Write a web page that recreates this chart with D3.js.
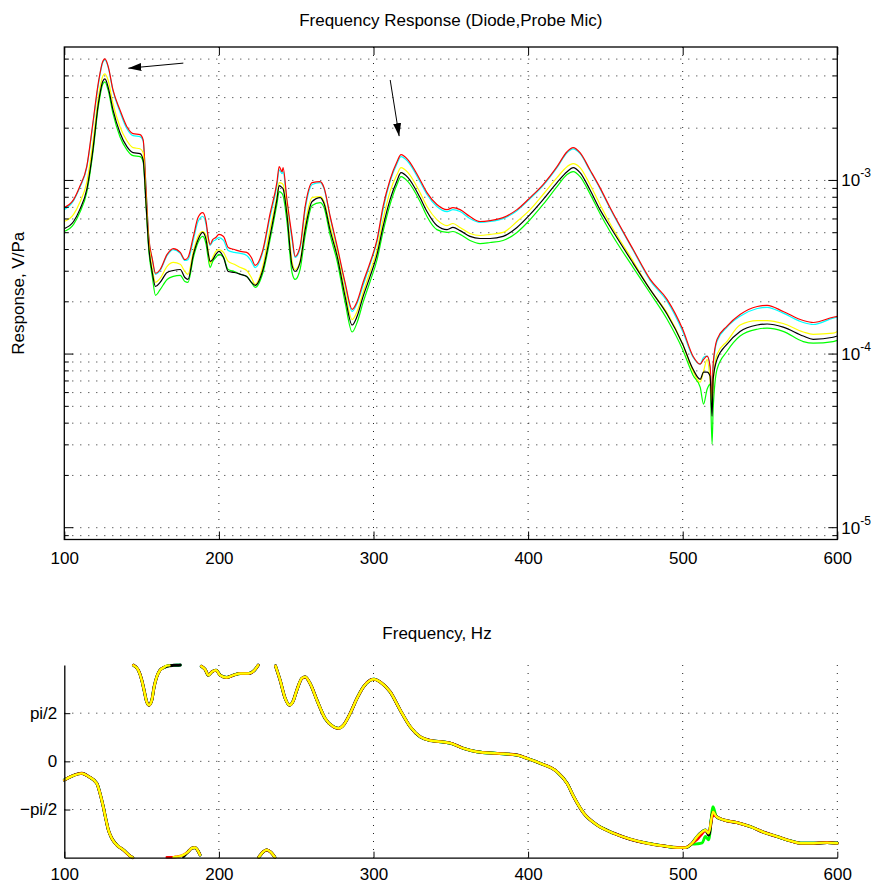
<!DOCTYPE html>
<html><head><meta charset="utf-8">
<script src="https://cdn.jsdelivr.net/npm/d3@7"></script>
<style>
body{margin:0;background:#fff}
svg{display:block}
text{font-family:"Liberation Sans",Arial,Helvetica,sans-serif;fill:#000}
</style>
</head><body>
<svg id="c" width="877" height="883"></svg>
<script>
// ---------- data ----------
const freq = [
 100,106,110,114.5,118.5,122,125,126.3,128.3,131.5,
 136,140.5,144.5,149,151,152.9,154.5,157,159,162,
 166.5,170.5,175,178,180,183.5,186.5,189.5,191.7,193,
 194.3,196,198,200,203,206,210,214,218,221,
 223.5,228.5,233,237.5,239,240.9,241.5,244,247.3,249.3,
 252.5,255.8,260.3,265.5,268,272,276.5,281.6,286.2,289.4,
 293.3,297.8,302.3,306.2,310.7,315.2,317.8,322.3,330.1,334.6,
 341,347.6,351.4,356,362.4,368.9,375.4,383.8,392.8,401.3,
 409.7,418.7,425.2,429.1,433.6,440,446.5,453,468,479,
 490,500,506.7,511.3,513.5,515.8,517.7,519,519.7,522.2,
 528.7,537.1,548.2,554.6,565,578,584.4,597.3,600];

// magnitude, V/Pa
const magRed = [
 0.698e-3,0.775e-3,0.922e-3,1.201e-3,2.150e-3,3.650e-3,4.878e-3,5.009e-3,4.572e-3,3.321e-3,
 2.549e-3,2.039e-3,1.859e-3,1.835e-3,1.714e-3,0.884e-3,0.489e-3,0.350e-3,0.292e-3,0.307e-3,
 0.375e-3,0.405e-3,0.385e-3,0.350e-3,0.360e-3,0.476e-3,0.611e-3,0.653e-3,0.580e-3,0.476e-3,
 0.428e-3,0.456e-3,0.469e-3,0.489e-3,0.476e-3,0.411e-3,0.400e-3,0.390e-3,0.385e-3,0.360e-3,
 0.324e-3,0.400e-3,0.637e-3,0.972e-3,1.201e-3,1.123e-3,1.185e-3,0.775e-3,0.476e-3,0.365e-3,
 0.417e-3,0.708e-3,0.972e-3,0.984e-3,0.909e-3,0.620e-3,0.417e-3,0.259e-3,0.181e-3,0.201e-3,
 0.259e-3,0.337e-3,0.456e-3,0.708e-3,1.009e-3,1.282e-3,1.408e-3,1.315e-3,1.009e-3,0.851e-3,
 0.727e-3,0.679e-3,0.698e-3,0.679e-3,0.620e-3,0.580e-3,0.587e-3,0.611e-3,0.679e-3,0.797e-3,
 0.947e-3,1.201e-3,1.464e-3,1.544e-3,1.445e-3,1.152e-3,0.909e-3,0.698e-3,0.400e-3,0.269e-3,
 0.206e-3,0.139e-3,0.0972e-3,0.0875e-3,0.0932e-3,0.0972e-3,0.0852e-3,0.0549e-3,0.0875e-3,0.1215e-3,
 0.145e-3,0.169e-3,0.188e-3,0.191e-3,0.176e-3,0.156e-3,0.152e-3,0.163e-3,0.165e-3];
const magCyan = [
 0.679e-3,0.765e-3,0.909e-3,1.185e-3,2.095e-3,3.556e-3,4.817e-3,4.939e-3,4.511e-3,3.280e-3,
 2.486e-3,1.984e-3,1.811e-3,1.787e-3,1.693e-3,0.884e-3,0.482e-3,0.346e-3,0.288e-3,0.303e-3,
 0.370e-3,0.400e-3,0.380e-3,0.346e-3,0.350e-3,0.456e-3,0.580e-3,0.620e-3,0.558e-3,0.469e-3,
 0.422e-3,0.445e-3,0.456e-3,0.469e-3,0.451e-3,0.395e-3,0.385e-3,0.380e-3,0.370e-3,0.342e-3,
 0.315e-3,0.390e-3,0.611e-3,0.934e-3,1.152e-3,1.095e-3,1.123e-3,0.746e-3,0.456e-3,0.360e-3,
 0.405e-3,0.679e-3,0.947e-3,0.972e-3,0.897e-3,0.611e-3,0.405e-3,0.252e-3,0.176e-3,0.196e-3,
 0.249e-3,0.329e-3,0.445e-3,0.679e-3,0.984e-3,1.250e-3,1.371e-3,1.282e-3,0.984e-3,0.830e-3,
 0.708e-3,0.662e-3,0.679e-3,0.662e-3,0.603e-3,0.573e-3,0.580e-3,0.603e-3,0.670e-3,0.786e-3,
 0.934e-3,1.185e-3,1.445e-3,1.522e-3,1.427e-3,1.138e-3,0.897e-3,0.689e-3,0.395e-3,0.265e-3,
 0.201e-3,0.135e-3,0.0958e-3,0.0875e-3,0.0958e-3,0.0972e-3,0.0817e-3,0.0515e-3,0.0840e-3,0.1185e-3,
 0.143e-3,0.165e-3,0.183e-3,0.186e-3,0.172e-3,0.152e-3,0.148e-3,0.161e-3,0.163e-3];
const magYellow = [
 0.580e-3,0.637e-3,0.746e-3,0.972e-3,1.650e-3,2.992e-3,4.005e-3,4.113e-3,3.791e-3,2.766e-3,
 2.039e-3,1.693e-3,1.544e-3,1.522e-3,1.445e-3,0.775e-3,0.456e-3,0.307e-3,0.259e-3,0.273e-3,
 0.320e-3,0.337e-3,0.329e-3,0.299e-3,0.288e-3,0.390e-3,0.476e-3,0.508e-3,0.482e-3,0.400e-3,
 0.333e-3,0.360e-3,0.390e-3,0.400e-3,0.385e-3,0.342e-3,0.329e-3,0.315e-3,0.303e-3,0.276e-3,
 0.252e-3,0.324e-3,0.521e-3,0.808e-3,0.972e-3,0.959e-3,0.947e-3,0.679e-3,0.342e-3,0.307e-3,
 0.342e-3,0.558e-3,0.797e-3,0.808e-3,0.756e-3,0.543e-3,0.380e-3,0.230e-3,0.158e-3,0.176e-3,
 0.227e-3,0.299e-3,0.400e-3,0.595e-3,0.862e-3,1.081e-3,1.185e-3,1.109e-3,0.851e-3,0.708e-3,
 0.595e-3,0.550e-3,0.565e-3,0.536e-3,0.495e-3,0.482e-3,0.489e-3,0.502e-3,0.580e-3,0.679e-3,
 0.830e-3,1.038e-3,1.201e-3,1.250e-3,1.185e-3,0.947e-3,0.727e-3,0.565e-3,0.342e-3,0.235e-3,
 0.172e-3,0.114e-3,0.0797e-3,0.0689e-3,0.0797e-3,0.0932e-3,0.0716e-3,0.0515e-3,0.0672e-3,0.0998e-3,
 0.1185e-3,0.147e-3,0.156e-3,0.156e-3,0.150e-3,0.134e-3,0.130e-3,0.132e-3,0.135e-3];
const magBlack = [
 0.528e-3,0.580e-3,0.679e-3,0.884e-3,1.501e-3,2.766e-3,3.744e-3,3.845e-3,3.462e-3,2.549e-3,
 1.883e-3,1.565e-3,1.445e-3,1.427e-3,1.315e-3,0.727e-3,0.428e-3,0.292e-3,0.245e-3,0.259e-3,
 0.295e-3,0.303e-3,0.307e-3,0.276e-3,0.269e-3,0.375e-3,0.456e-3,0.502e-3,0.456e-3,0.385e-3,
 0.342e-3,0.350e-3,0.375e-3,0.390e-3,0.360e-3,0.299e-3,0.295e-3,0.288e-3,0.280e-3,0.259e-3,
 0.249e-3,0.307e-3,0.476e-3,0.775e-3,0.934e-3,0.909e-3,0.897e-3,0.637e-3,0.324e-3,0.299e-3,
 0.337e-3,0.521e-3,0.756e-3,0.797e-3,0.736e-3,0.514e-3,0.365e-3,0.215e-3,0.147e-3,0.165e-3,
 0.215e-3,0.280e-3,0.375e-3,0.543e-3,0.775e-3,0.997e-3,1.109e-3,1.038e-3,0.797e-3,0.662e-3,
 0.550e-3,0.521e-3,0.536e-3,0.514e-3,0.476e-3,0.463e-3,0.463e-3,0.476e-3,0.536e-3,0.637e-3,
 0.775e-3,0.972e-3,1.123e-3,1.185e-3,1.109e-3,0.884e-3,0.679e-3,0.543e-3,0.333e-3,0.235e-3,
 0.169e-3,0.114e-3,0.0817e-3,0.0716e-3,0.0787e-3,0.0787e-3,0.0746e-3,0.0439e-3,0.0716e-3,0.0932e-3,
 0.114e-3,0.135e-3,0.147e-3,0.149e-3,0.143e-3,0.127e-3,0.1215e-3,0.125e-3,0.127e-3];
const magGreen = [
 0.508e-3,0.558e-3,0.653e-3,0.851e-3,1.445e-3,2.657e-3,3.603e-3,3.697e-3,3.321e-3,2.423e-3,
 1.787e-3,1.501e-3,1.389e-3,1.371e-3,1.282e-3,0.708e-3,0.411e-3,0.276e-3,0.218e-3,0.235e-3,
 0.269e-3,0.280e-3,0.284e-3,0.262e-3,0.259e-3,0.360e-3,0.439e-3,0.476e-3,0.428e-3,0.360e-3,
 0.315e-3,0.342e-3,0.360e-3,0.375e-3,0.360e-3,0.307e-3,0.299e-3,0.288e-3,0.280e-3,0.259e-3,
 0.242e-3,0.295e-3,0.451e-3,0.727e-3,0.862e-3,0.840e-3,0.818e-3,0.580e-3,0.295e-3,0.269e-3,
 0.307e-3,0.482e-3,0.717e-3,0.746e-3,0.698e-3,0.482e-3,0.342e-3,0.199e-3,0.134e-3,0.152e-3,
 0.199e-3,0.262e-3,0.350e-3,0.508e-3,0.727e-3,0.947e-3,1.052e-3,0.984e-3,0.756e-3,0.620e-3,
 0.521e-3,0.502e-3,0.508e-3,0.489e-3,0.451e-3,0.433e-3,0.439e-3,0.451e-3,0.502e-3,0.595e-3,
 0.727e-3,0.922e-3,1.081e-3,1.123e-3,1.052e-3,0.840e-3,0.645e-3,0.508e-3,0.315e-3,0.224e-3,
 0.158e-3,0.106e-3,0.0756e-3,0.0645e-3,0.0515e-3,0.0627e-3,0.0672e-3,0.0303e-3,0.0481e-3,0.0817e-3,
 0.1038e-3,0.127e-3,0.139e-3,0.141e-3,0.135e-3,0.118e-3,0.1155e-3,0.118e-3,0.120e-3];

// phase, radians (wrapped to -pi..pi)
const phaseFreq = [
 100,105,111.3,116,121,123.1,125.2,127,128.5,130.7,
 133.9,138.2,142.5,144.3,144.7,147.9,150.1,151.6,153.3,154.8,
 156.6,158.1,159.8,161.9,164,166.3,168,170.6,172.8,175,
 177,180,182.5,184.6,186.1,187.8,188.6,191.1,193.2,195.4,
 198.2,200.8,205.1,209.4,213.7,219.1,223.4,225.4,225.8,228.8,
 231,233.6,236.2,236.6,239.6,242.9,245.7,247.8,250.4,253.6,
 255.8,259,263.4,268.7,274.1,277.3,280.6,284.9,289.3,293.5,
 297.9,300.4,304.3,310.8,317.3,323.8,330.2,336.7,345.3,349.6,
 358.2,366.9,379.9,392.8,399.3,407.9,418.7,425.2,429.5,436,
 444.6,455.3,466.1,476.9,487.7,496.4,501.7,506.1,509.3,512.6,
 514.7,516.8,519.6,521.8,526.5,535.2,543.8,552.4,561.1,569.7,
 576.2,584.8,593.4,600];
const phaseYellow = [
 -0.609,-0.48,-0.391,-0.505,-0.716,-1.042,-1.478,-1.911,-2.236,-2.507,
 -2.725,-2.887,-3.083,-3.138,3.135,2.972,2.646,2.320,1.940,1.833,
 1.995,2.428,2.754,2.972,3.05,3.12,3.13,-3.125,-3.11,-3.09,
 -3.05,-2.95,-2.832,-2.81,-2.887,-3.05,3.102,2.995,2.809,2.917,
 2.972,2.809,2.734,2.809,2.865,2.865,2.995,3.135,-3.125,-2.943,
 -2.887,-2.962,-3.125,3.112,2.646,2.051,1.833,1.940,2.321,2.702,
 2.754,2.539,1.995,1.400,1.126,1.074,1.182,1.562,2.051,2.428,
 2.646,2.679,2.591,2.266,1.670,1.126,0.801,0.680,0.630,0.595,
 0.423,0.313,0.260,0.205,0.098,-0.065,-0.339,-0.716,-1.152,-1.693,
 -2.074,-2.344,-2.539,-2.669,-2.757,-2.813,-2.813,-2.669,-2.454,-2.292,
 -2.236,-2.344,-1.640,-1.803,-1.911,-1.998,-2.128,-2.312,-2.454,-2.594,
 -2.669,-2.669,-2.650,-2.669];
const phaseRed = [
 -0.609,-0.48,-0.391,-0.505,-0.716,-1.042,-1.478,-1.911,-2.236,-2.507,
 -2.725,-2.887,-3.083,-3.138,3.135,2.972,2.646,2.320,1.940,1.833,
 1.995,2.428,2.754,2.972,3.05,-3.125,-3.125,-3.125,-3.11,-3.09,
 -3.05,-2.95,-2.832,-2.81,-2.887,-3.05,3.102,2.995,2.809,2.917,
 2.972,2.809,2.734,2.809,2.865,2.865,2.995,3.135,-3.125,-2.943,
 -2.887,-2.962,-3.125,3.112,2.646,2.051,1.833,1.940,2.321,2.702,
 2.754,2.539,1.995,1.400,1.126,1.074,1.182,1.562,2.051,2.428,
 2.646,2.679,2.591,2.266,1.670,1.126,0.801,0.680,0.630,0.595,
 0.423,0.313,0.260,0.205,0.098,-0.065,-0.339,-0.716,-1.152,-1.693,
 -2.074,-2.344,-2.539,-2.669,-2.757,-2.813,-2.813,-2.669,-2.55,-2.36,
 -2.26,-2.30,-1.75,-1.803,-1.911,-1.998,-2.128,-2.312,-2.454,-2.594,
 -2.669,-2.669,-2.650,-2.669];
const phaseBlack = [
 -0.609,-0.48,-0.391,-0.505,-0.716,-1.042,-1.478,-1.911,-2.236,-2.507,
 -2.725,-2.887,-3.083,-3.138,3.135,2.972,2.646,2.320,1.940,1.833,
 1.995,2.428,2.754,2.972,3.05,3.102,3.12,3.13,3.135,3.138,
 -3.10,-2.95,-2.832,-2.81,-2.887,-3.05,3.102,2.995,2.809,2.917,
 2.972,2.809,2.734,2.809,2.865,2.865,2.995,3.135,-3.125,-2.943,
 -2.887,-2.962,-3.125,3.112,2.646,2.051,1.833,1.940,2.321,2.702,
 2.754,2.539,1.995,1.400,1.126,1.074,1.182,1.562,2.051,2.428,
 2.646,2.679,2.591,2.266,1.670,1.126,0.801,0.680,0.630,0.595,
 0.423,0.313,0.260,0.205,0.098,-0.065,-0.339,-0.716,-1.152,-1.693,
 -2.074,-2.344,-2.539,-2.669,-2.757,-2.813,-2.813,-2.669,-2.454,-2.292,
 -2.236,-2.40,-1.66,-1.803,-1.911,-1.998,-2.128,-2.312,-2.454,-2.594,
 -2.669,-2.669,-2.650,-2.669];
const phaseCyan = [
 -0.609,-0.48,-0.391,-0.505,-0.716,-1.042,-1.478,-1.911,-2.236,-2.507,
 -2.725,-2.887,-3.083,-3.138,3.135,2.972,2.646,2.320,1.940,1.833,
 1.995,2.428,2.754,2.972,3.05,3.102,3.12,3.13,3.135,3.138,
 -3.10,-2.95,-2.832,-2.81,-2.887,-3.05,3.102,2.995,2.809,2.917,
 2.972,2.809,2.734,2.809,2.865,2.865,2.995,3.135,-3.125,-2.943,
 -2.887,-2.962,-3.125,3.112,2.646,2.051,1.833,1.940,2.321,2.702,
 2.754,2.539,1.995,1.400,1.126,1.074,1.182,1.562,2.051,2.428,
 2.646,2.679,2.591,2.266,1.670,1.126,0.801,0.680,0.630,0.595,
 0.423,0.313,0.260,0.205,0.098,-0.065,-0.339,-0.716,-1.152,-1.693,
 -2.074,-2.344,-2.539,-2.669,-2.757,-2.813,-2.813,-2.669,-2.454,-2.292,
 -2.236,-2.344,-1.640,-1.803,-1.911,-1.998,-2.128,-2.312,-2.454,-2.594,
 -2.669,-2.669,-2.650,-2.669];
const phaseGreen = [
 -0.609,-0.48,-0.391,-0.505,-0.716,-1.042,-1.478,-1.911,-2.236,-2.507,
 -2.725,-2.887,-3.083,-3.138,3.135,2.972,2.646,2.320,1.940,1.833,
 1.995,2.428,2.754,2.972,3.05,3.102,3.12,3.13,3.135,3.138,
 -3.10,-2.95,-2.832,-2.81,-2.887,-3.05,3.102,2.995,2.809,2.917,
 2.972,2.809,2.734,2.809,2.865,2.865,2.995,3.135,-3.125,-2.943,
 -2.887,-2.962,-3.125,3.112,2.646,2.051,1.833,1.940,2.321,2.702,
 2.754,2.539,1.995,1.400,1.126,1.074,1.182,1.562,2.051,2.428,
 2.646,2.679,2.591,2.266,1.670,1.126,0.801,0.680,0.630,0.595,
 0.423,0.313,0.260,0.205,0.098,-0.065,-0.339,-0.716,-1.152,-1.693,
 -2.074,-2.344,-2.539,-2.669,-2.757,-2.813,-2.813,-2.70,-2.69,-2.66,
 -2.45,-2.56,-1.48,-1.803,-1.911,-1.998,-2.128,-2.312,-2.454,-2.594,
 -2.669,-2.669,-2.650,-2.669];

const freqTicks = [100, 200, 300, 400, 500, 600];
const magDecades = [1e-5, 1e-4, 1e-3];
const magDecadeExp = ["-5", "-4", "-3"];
const phaseTicks = [-Math.PI / 2, 0, Math.PI / 2];
const phaseTickLabels = ["\u2212pi/2", "0", "pi/2"];
const magDomain = [8.55e-6, 5.87e-3];
const phaseDomain = [-Math.PI, Math.PI];
// annotation arrows (data coordinates: Hz, V/Pa)
const arrowFrom = [[177.0, 4.74e-3], [310.8, 3.79e-3]];
const arrowTo   = [[141.4, 4.43e-3], [316.6, 1.80e-3]];

const titleText = "Frequency Response (Diode,Probe Mic)";
const yLabelText = "Response, V/Pa";
const xLabelText = "Frequency, Hz";

// ---------- drawing ----------
const svg = d3.select("#c");
const FONT = 17;
const P1 = {l: 64.3, r: 837.3, t: 47, b: 539.5};
const P2 = {l: 64.3, r: 837.3, t: 665, b: 857.7};

const x1 = d3.scaleLinear().domain([100, 600]).range([P1.l, P1.r]);
const y1 = d3.scaleLog().domain(magDomain).range([P1.b, P1.t]);
const x2 = d3.scaleLinear().domain([100, 600]).range([P2.l, P2.r]);
const y2 = d3.scaleLinear().domain(phaseDomain).range([P2.b, P2.t]);

const defs = svg.append("defs");
defs.append("clipPath").attr("id", "clip1").append("rect")
  .attr("x", P1.l).attr("y", P1.t).attr("width", P1.r - P1.l).attr("height", P1.b - P1.t);
defs.append("clipPath").attr("id", "clip2").append("rect")
  .attr("x", P2.l - 2).attr("y", P2.t - 2).attr("width", P2.r - P2.l + 4).attr("height", P2.b - P2.t + 4);
defs.append("marker").attr("id", "ah").attr("viewBox", "0 0 13 8")
  .attr("refX", 13).attr("refY", 4).attr("markerWidth", 13).attr("markerHeight", 8)
  .attr("markerUnits", "userSpaceOnUse").attr("orient", "auto")
  .append("path").attr("d", "M0,0L13,4L0,8Z").attr("fill", "#000");

const gridStyle = sel => sel.attr("stroke", "#222").attr("stroke-width", 1)
  .attr("stroke-dasharray", "1,7").attr("fill", "none");

// ----- top plot -----
const g1 = svg.append("g");
const logTicks = y1.ticks();
const isMajor = d => Math.abs(Math.log10(d) - Math.round(Math.log10(d))) < 1e-9;

g1.append("g").selectAll("line").data(logTicks).join("line")
  .attr("x1", P1.l).attr("x2", P1.r)
  .attr("y1", d => y1(d)).attr("y2", d => y1(d)).call(gridStyle);
g1.append("g").selectAll("line").data(freqTicks.slice(1, -1)).join("line")
  .attr("x1", d => x1(d)).attr("x2", d => x1(d))
  .attr("y1", P1.t).attr("y2", P1.b).call(gridStyle);

const magSeries = [
  {vals: magCyan, color: "#00ffff"},
  {vals: magRed, color: "#ff0000"},
  {vals: magGreen, color: "#00ff00"},
  {vals: magYellow, color: "#ffff00"},
  {vals: magBlack, color: "#000000"}
];
const line1 = d3.line().x(d => x1(d[0])).y(d => y1(d[1])).curve(d3.curveMonotoneX);
g1.append("g").attr("clip-path", "url(#clip1)").selectAll("path").data(magSeries).join("path")
  .attr("d", s => line1(freq.map((f, i) => [f, s.vals[i]])))
  .attr("fill", "none").attr("stroke", s => s.color).attr("stroke-width", 1.2)
  .attr("stroke-linejoin", "round");

// box
g1.append("rect").attr("x", P1.l).attr("y", P1.t)
  .attr("width", P1.r - P1.l).attr("height", P1.b - P1.t)
  .attr("fill", "none").attr("stroke", "#000").attr("stroke-width", 1.3);

// x axis bottom (labels) and top (ticks only)
const ax1 = g1.append("g").attr("transform", `translate(0,${P1.b})`)
  .call(d3.axisBottom(x1).tickValues(freqTicks).tickFormat(d3.format("d"))
    .tickSizeInner(-8).tickSizeOuter(0).tickPadding(12));
const ax1t = g1.append("g").attr("transform", `translate(0,${P1.t})`)
  .call(d3.axisTop(x1).tickValues(freqTicks).tickFormat("")
    .tickSizeInner(-8).tickSizeOuter(0));
[ax1, ax1t].forEach(a => {
  a.select(".domain").remove();
  a.selectAll("line").attr("stroke", "#000").attr("stroke-width", 1);
  a.selectAll("text").attr("font-size", FONT).attr("font-family", null);
});

// y ticks left and right
g1.append("g").selectAll("line").data(logTicks).join("line")
  .attr("x1", P1.l).attr("x2", d => P1.l + (isMajor(d) ? 9 : 4.5))
  .attr("y1", d => y1(d)).attr("y2", d => y1(d)).attr("stroke", "#000");
g1.append("g").selectAll("line").data(logTicks).join("line")
  .attr("x1", P1.r).attr("x2", d => P1.r - (isMajor(d) ? 9 : 4.5))
  .attr("y1", d => y1(d)).attr("y2", d => y1(d)).attr("stroke", "#000");

// right decade labels 10^k
const lab = g1.append("g").selectAll("text").data(magDecades).join("text")
  .attr("x", P1.r + 4).attr("y", d => y1(d) + 6).attr("font-size", FONT);
lab.append("tspan").text("10");
lab.append("tspan").attr("dy", -9).attr("font-size", 12).text((d, i) => magDecadeExp[i]);

// arrows
g1.append("g").selectAll("line").data(arrowFrom).join("line")
  .attr("x1", d => x1(d[0])).attr("y1", d => y1(d[1]))
  .attr("x2", (d, i) => x1(arrowTo[i][0])).attr("y2", (d, i) => y1(arrowTo[i][1]))
  .attr("stroke", "#000").attr("stroke-width", 1).attr("marker-end", "url(#ah)");

// ----- bottom plot -----
const g2 = svg.append("g");
g2.append("g").selectAll("line").data(phaseTicks).join("line")
  .attr("x1", P2.l).attr("x2", P2.r)
  .attr("y1", d => y2(d)).attr("y2", d => y2(d)).call(gridStyle);
g2.append("g").selectAll("line").data(freqTicks.slice(1)).join("line")
  .attr("x1", d => x2(d)).attr("x2", d => x2(d))
  .attr("y1", P2.t).attr("y2", P2.b).call(gridStyle);

const phaseSeries = [
  {vals: phaseCyan, color: "#00ffff", w: 2.8},
  {vals: phaseGreen, color: "#00ff00", w: 2.8},
  {vals: phaseBlack, color: "#000000", w: 3.0},
  {vals: phaseRed, color: "#ff0000", w: 2.6},
  {vals: phaseYellow, color: "#ffff00", w: 2.4}
];
function wrapSegments(vals) {
  const segs = [];
  let cur = [];
  vals.forEach((v, i) => {
    if (i > 0 && Math.abs(v - vals[i - 1]) > Math.PI) { segs.push(cur); cur = []; }
    cur.push([phaseFreq[i], v]);
  });
  segs.push(cur);
  return segs;
}
const line2 = d3.line().x(d => x2(d[0])).y(d => y2(d[1])).curve(d3.curveMonotoneX);
const pg = g2.append("g").attr("clip-path", "url(#clip2)");
phaseSeries.forEach(s => {
  pg.append("g").selectAll("path").data(wrapSegments(s.vals)).join("path")
    .attr("d", seg => line2(seg))
    .attr("fill", "none").attr("stroke", s.color).attr("stroke-width", s.w)
    .attr("stroke-linecap", "round").attr("stroke-linejoin", "round");
});

const ax2 = g2.append("g").attr("transform", `translate(0,${P2.b})`)
  .call(d3.axisBottom(x2).tickValues(freqTicks).tickFormat(d3.format("d"))
    .tickSizeInner(-6).tickSizeOuter(0).tickPadding(10));
const ay2 = g2.append("g").attr("transform", `translate(${P2.l},0)`)
  .call(d3.axisLeft(y2).tickValues(phaseTicks).tickFormat((d, i) => phaseTickLabels[i])
    .tickSizeInner(-6).tickSizeOuter(0).tickPadding(7));
[ax2, ay2].forEach(a => {
  a.select(".domain").attr("stroke", "#000").attr("stroke-width", 1.3);
  a.selectAll("line").attr("stroke", "#000").attr("stroke-width", 1);
  a.selectAll("text").attr("font-size", FONT).attr("font-family", null);
});

// ----- texts -----
svg.append("text").attr("x", (P1.l + P1.r) / 2).attr("y", 26)
  .attr("text-anchor", "middle").attr("font-size", FONT).text(titleText);
svg.append("text").attr("transform", `translate(24,${(P1.t + P1.b) / 2}) rotate(-90)`)
  .attr("text-anchor", "middle").attr("font-size", FONT).text(yLabelText);
svg.append("text").attr("x", 437).attr("y", 639)
  .attr("text-anchor", "middle").attr("font-size", FONT).text(xLabelText);
</script>
</body></html>
